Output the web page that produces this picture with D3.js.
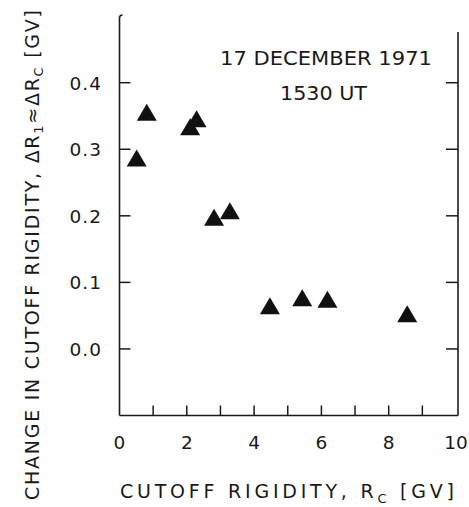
<!DOCTYPE html>
<html>
<head>
<meta charset="utf-8">
<script src="https://cdn.jsdelivr.net/npm/d3@7"></script>
<style>
  body { margin: 0; background: #fff; }
  svg { display: block; }
  text { font-family: "DejaVu Sans", "Liberation Sans", sans-serif; fill: #1a1a1a; }
</style>
</head>
<body>
<svg id="chart" width="469" height="507"></svg>
<script>
// data
let rigidity = [0.51, 0.81, 2.10, 2.29, 2.81, 3.28, 4.47, 5.43, 6.18, 8.55];
let deltaR   = [0.283, 0.352, 0.330, 0.342, 0.194, 0.204, 0.061, 0.073, 0.071, 0.049];
let xTicks = [0, 1, 2, 3, 4, 5, 6, 7, 8, 9, 10];
let xTickLabels = [0, 2, 4, 6, 8, 10];
let yTicks = [0.0, 0.1, 0.2, 0.3, 0.4];

const svg = d3.select("#chart");
const x = d3.scaleLinear().domain([0, 10]).range([119.5, 456]);
const y = d3.scaleLinear().domain([-0.1, 0.4]).range([415.5, 82.7]);

const ink = "#1a1a1a";
const frame = svg.append("g").attr("stroke", ink).attr("stroke-width", 1.6).attr("fill", "none");

// left axis with small hook at top
frame.append("path").attr("d", `M${x(0)},${y(-0.1)} V18 q0,-3 3,-3`);
// bottom axis
frame.append("line").attr("x1", x(0)).attr("x2", 458).attr("y1", y(-0.1)).attr("y2", y(-0.1));
// right axis (starts lower)
frame.append("line").attr("x1", 458).attr("x2", 458).attr("y1", 32).attr("y2", y(-0.1));

// y ticks, inward on both sides
const yTickG = svg.append("g").attr("stroke", ink).attr("stroke-width", 1.5);
yTickG.selectAll(".yl").data(yTicks).enter().append("line")
    .attr("x1", x(0)).attr("x2", x(0) + 11)
    .attr("y1", d => y(d)).attr("y2", d => y(d));
yTickG.selectAll(".yr").data(yTicks).enter().append("line")
    .attr("x1", 458).attr("x2", 446)
    .attr("y1", d => y(d)).attr("y2", d => y(d));

// x ticks inward
svg.append("g").attr("stroke", ink).attr("stroke-width", 1.5)
    .selectAll("line").data(xTicks.slice(1, -1)).enter().append("line")
    .attr("x1", d => x(d)).attr("x2", d => x(d))
    .attr("y1", y(-0.1)).attr("y2", y(-0.1) - 10);

// tick labels
svg.append("g").selectAll("text").data(yTicks).enter().append("text")
    .attr("x", 102).attr("y", d => y(d) + 7)
    .attr("text-anchor", "end").attr("font-size", 18.5).attr("letter-spacing", 1)
    .text(d => d.toFixed(1));

svg.append("g").selectAll("text").data(xTickLabels).enter().append("text")
    .attr("x", d => x(d)).attr("y", 449)
    .attr("text-anchor", "middle").attr("font-size", 18.5)
    .text(d => d);

// x title
let xt = svg.append("text").attr("x", 120).attr("y", 498).attr("font-size", 19)
    .attr("textLength", 334).attr("lengthAdjust", "spacing");
xt.append("tspan").text("CUTOFF  RIGIDITY,  R");
xt.append("tspan").attr("font-size", 13).attr("dy", 5).text("C");
xt.append("tspan").attr("dy", -5).text(" [GV]");

// y title
let yt = svg.append("text").attr("transform", "translate(39,500) rotate(-90)")
    .attr("font-size", 19).attr("textLength", 490).attr("lengthAdjust", "spacing");
yt.append("tspan").text("CHANGE IN CUTOFF RIGIDITY,  \u0394R");
yt.append("tspan").attr("font-size", 13).attr("dy", 4).text("1");
yt.append("tspan").attr("dy", -4).text("\u2248\u0394R");
yt.append("tspan").attr("font-size", 13).attr("dy", 4).text("C");
yt.append("tspan").attr("dy", -4).text(" [GV]");

// annotation
svg.append("text").attr("x", 220).attr("y", 65).attr("font-size", 20)
    .attr("textLength", 212).attr("lengthAdjust", "spacingAndGlyphs")
    .text("17 DECEMBER 1971");
svg.append("text").attr("x", 280).attr("y", 100).attr("font-size", 20)
    .attr("textLength", 87).attr("lengthAdjust", "spacingAndGlyphs")
    .text("1530 UT");

// triangles
const tri = "M0,-11 L10,6 L-10,6 Z";
svg.append("g").selectAll("path").data(rigidity).enter().append("path")
    .attr("d", tri)
    .attr("transform", (d, i) => `translate(${x(d)},${y(deltaR[i])})`)
    .attr("fill", "#111");
</script>
</body>
</html>
